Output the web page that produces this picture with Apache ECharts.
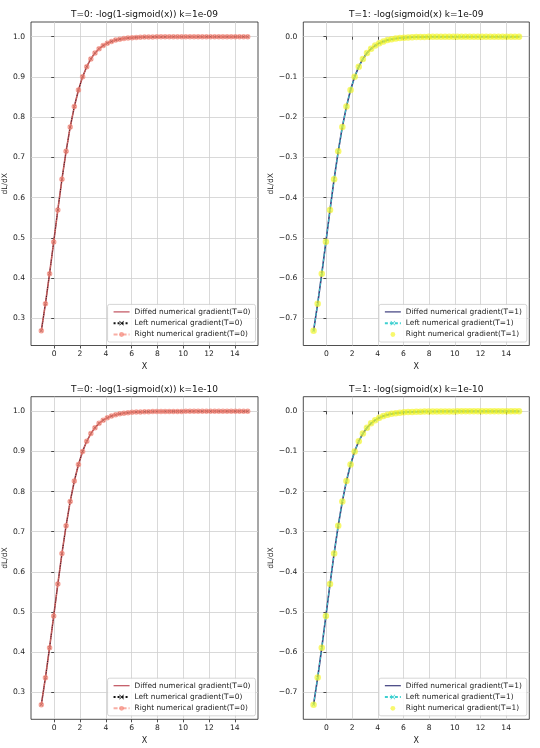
<!DOCTYPE html>
<html>
<head>
<meta charset="utf-8">
<script src="https://cdn.jsdelivr.net/npm/echarts@6/dist/echarts.min.js"></script>
<style>
html,body{margin:0;padding:0;background:#fff;}
#c{width:540px;height:748px;}
</style>
</head>
<body>
<div id="c"></div>
<script>
// ---- data ----
const xs = [-1,-0.68,-0.36,-0.04,0.28,0.6,0.92,1.24,1.56,1.88,2.2,2.52,2.84,3.16,3.48,3.8,4.12,4.44,4.76,5.08,5.4,5.72,6.04,6.36,6.68,7,7.32,7.64,7.96,8.28,8.6,8.92,9.24,9.56,9.88,10.2,10.52,10.84,11.16,11.48,11.8,12.12,12.44,12.76,13.08,13.4,13.72,14.04,14.36,14.68,15];
const gradT0 = [0.2689,0.3363,0.4110,0.4900,0.5695,0.6457,0.7150,0.7756,0.8264,0.8676,0.9002,0.9255,0.9448,0.9593,0.9701,0.9781,0.9840,0.9883,0.9915,0.9938,0.9955,0.9967,0.9976,0.9983,0.9987,0.9991,0.9993,0.9995,0.9997,0.9997,0.9998,0.9999,0.9999,0.9999,0.9999,1.0,1.0,1.0,1.0,1.0,1.0,1.0,1.0,1.0,1.0,1.0,1.0,1.0,1.0,1.0,1.0];
const gradT1 = [-0.7311,-0.6637,-0.5890,-0.5100,-0.4305,-0.3543,-0.2850,-0.2244,-0.1736,-0.1324,-0.0998,-0.0745,-0.0552,-0.0407,-0.0299,-0.0219,-0.0160,-0.0117,-0.0085,-0.0062,-0.0045,-0.0033,-0.0024,-0.0017,-0.0013,-0.0009,-0.0007,-0.0005,-0.0003,-0.0003,-0.0002,-0.0001,-0.0001,-0.0001,-0.0001,0,0,0,0,0,0,0,0,0,0,0,0,0,0,0,0];
const xTicks = [0,2,4,6,8,10,12,14];
const yTicksT0 = [0.3,0.4,0.5,0.6,0.7,0.8,0.9,1.0];
const yTicksT1 = [-0.7,-0.6,-0.5,-0.4,-0.3,-0.2,-0.1,0.0];
const titles = ['T=0: -log(1-sigmoid(x)) k=1e-09','T=1: -log(sigmoid(x) k=1e-09','T=0: -log(1-sigmoid(x)) k=1e-10','T=1: -log(sigmoid(x) k=1e-10'];
const namesT0 = ['Diffed numerical gradient(T=0)','Left numerical gradient(T=0)','Right numerical gradient(T=0)'];
const namesT1 = ['Diffed numerical gradient(T=1)','Left numerical gradient(T=1)','Right numerical gradient(T=1)'];

// ---- layout ----
const FONT = 'DejaVu Sans';
const panels = [
  {left:31, top:22, w:227, h:323.5, t:0},
  {left:303.3, top:22, w:226, h:323.5, t:1},
  {left:31, top:396.7, w:227, h:322.6, t:0},
  {left:303.3, top:396.7, w:226, h:322.6, t:1}
];
const xMin = -1.8, xMax = 15.8;
const yRange = {0:[0.23245,1.03655], 1:[-0.76765,0.03655]};
const crossPath = 'path://M0,1L1,0L5,4L9,0L10,1L6,5L10,9L9,10L5,6L1,10L0,9L4,5Z';
const lineIcon = 'path://M0,4.4H16V5.6H0Z';
const fmt = v => { const s = (Math.round(v*10)/10).toFixed(1); return s.replace('-', '\u2212'); };

const grid = [], xAxis = [], yAxis = [], series = [], legend = [], graphic = [];
panels.forEach((p, i) => {
  grid.push({left:p.left, top:p.top, width:p.w, height:p.h, show:true, borderColor:'#222', borderWidth:0.8, backgroundColor:'transparent', containLabel:false});
  const axText = {color:'#222', fontFamily:FONT, fontSize:7.6};
  xAxis.push({
    type:'value', gridIndex:i, min:xMin, max:xMax,
    name:'X', nameLocation:'middle', nameGap:17.5, nameTextStyle:{color:'#222', fontFamily:FONT, fontSize:8},
    axisLine:{show:false},
    axisTick:{show:true, length:3, lineStyle:{color:'#222', width:0.8}, customValues:xTicks},
    axisLabel:{show:true, margin:5, customValues:xTicks, formatter:v=>String(Math.round(v)), ...axText},
    splitLine:{show:true, lineStyle:{color:'#cfcfcf', width:0.8}}
  });
  const yt = p.t === 0 ? yTicksT0 : yTicksT1;
  yAxis.push({
    type:'value', gridIndex:i, min:yRange[p.t][0], max:yRange[p.t][1],
    name:'dL/dX', nameLocation:'middle', nameGap:22, nameTextStyle:{color:'#222', fontFamily:FONT, fontSize:7.6},
    axisLine:{show:false},
    axisTick:{show:true, length:3, lineStyle:{color:'#222', width:0.8}, customValues:yt},
    axisLabel:{show:true, margin:6, customValues:yt, formatter:fmt, ...axText},
    splitLine:{show:true, lineStyle:{color:'#cfcfcf', width:0.8}}
  });
  const names = p.t === 0 ? namesT0 : namesT1;
  const ys = p.t === 0 ? gradT0 : gradT1;
  const pts = xs.map((x, k) => [x, ys[k]]);
  let diffColor;
  if (p.t === 0) {
    diffColor = '#c0505c';
    series.push({name:names[0], type:'line', xAxisIndex:i, yAxisIndex:i, data:pts, showSymbol:false, symbol:'none',
      lineStyle:{color:diffColor, width:1.6}, itemStyle:{color:diffColor}, silent:true, animation:false, z:2});
    series.push({name:names[1], type:'line', xAxisIndex:i, yAxisIndex:i, data:pts, symbol:crossPath, symbolSize:3.5,
      lineStyle:{color:'#111', width:0.9, type:'dotted'}, itemStyle:{color:'#111'}, silent:true, animation:false, z:3});
    series.push({name:names[2], type:'line', xAxisIndex:i, yAxisIndex:i, data:pts, symbol:'circle', symbolSize:5.5,
      lineStyle:{color:'rgba(245,130,115,0.65)', width:1, type:[4,2,1,2]}, itemStyle:{color:'rgba(245,130,115,0.7)'}, silent:true, animation:false, z:4});
  } else {
    diffColor = '#3d3d7d';
    series.push({name:names[0], type:'line', xAxisIndex:i, yAxisIndex:i, data:pts, showSymbol:false, symbol:'none',
      lineStyle:{color:diffColor, width:1.6}, itemStyle:{color:diffColor}, silent:true, animation:false, z:2});
    series.push({name:names[1], type:'line', xAxisIndex:i, yAxisIndex:i, data:pts, symbol:crossPath, symbolSize:3.5,
      lineStyle:{color:'#3ccfd0', width:1, type:[3,2]}, itemStyle:{color:'#3ccfd0'}, silent:true, animation:false, z:3});
    series.push({name:names[2], type:'line', xAxisIndex:i, yAxisIndex:i, data:pts, symbol:'circle', symbolSize:6.5,
      lineStyle:{color:'rgba(255,255,0,0.6)', width:0, opacity:0}, itemStyle:{color:'rgba(245,245,30,0.65)'}, silent:true, animation:false, z:4});
  }
  legend.push({
    orient:'vertical', right:540 - (p.left + p.w) + 2.5, bottom:748 - (p.top + p.h) + 3.5,
    data:[{name:names[0], icon:lineIcon}, names[1], names[2]],
    itemWidth:16, itemHeight:6, itemGap:2.3, padding:[3,5,3,5],
    backgroundColor:'rgba(255,255,255,0.85)', borderColor:'#cccccc', borderWidth:0.8, borderRadius:2,
    textStyle:{color:'#222', fontFamily:FONT, fontSize:7.4, lineHeight:9}, selectedMode:false, inactiveColor:'#222'
  });
  graphic.push({type:'text', x:p.left + p.w/2, y:p.top - 7, silent:true,
    style:{text:titles[i], align:'center', verticalAlign:'middle', fill:'#111', fontFamily:FONT, fontSize:9}});
});

const chart = echarts.init(document.getElementById('c'), null, {renderer:'canvas'});
chart.setOption({animation:false, backgroundColor:'#fff', grid, xAxis, yAxis, series, legend, graphic});
</script>
</body>
</html>
